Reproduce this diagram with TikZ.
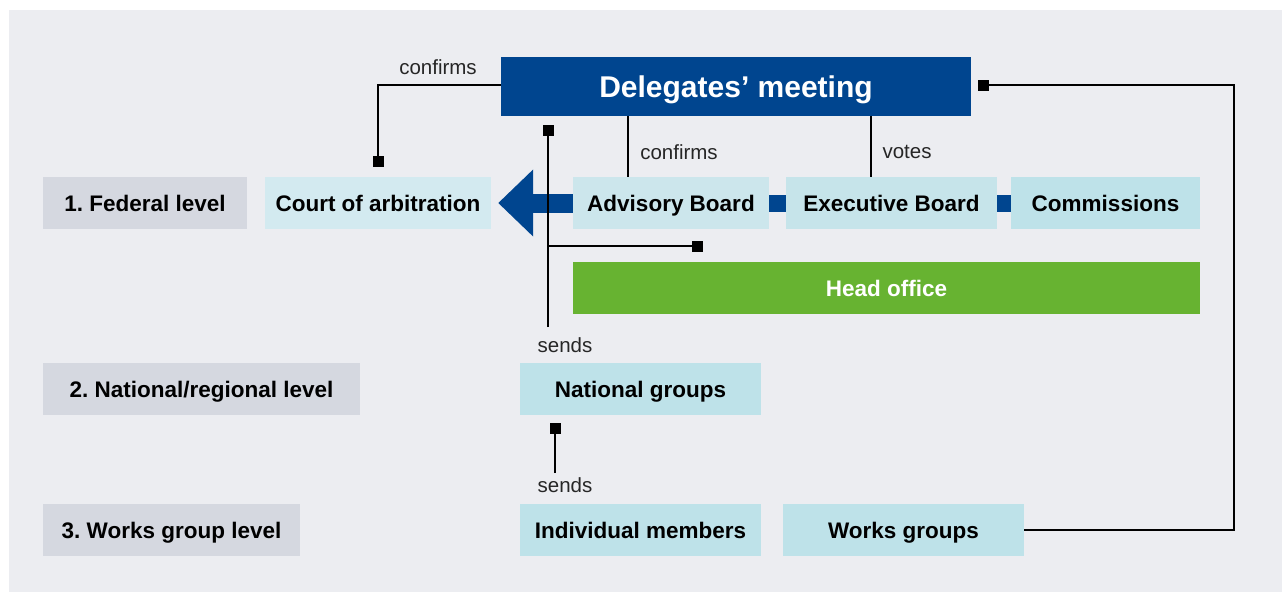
\documentclass[tikz,border=0pt]{standalone}
\usepackage{fontspec}
\setmainfont{Liberation Sans}
\usepackage{tikz}
\usetikzlibrary{arrows.meta}
\frenchspacing

\definecolor{panelgray}{RGB}{236,237,241}
\definecolor{darkblue}{RGB}{0,69,143}
\definecolor{levelgray}{RGB}{213,216,224}
\definecolor{courtcol}{RGB}{211,234,240}
\definecolor{advcol}{RGB}{204,230,236}
\definecolor{execcol}{RGB}{198,228,234}
\definecolor{unitcol}{RGB}{190,226,233}
\definecolor{officegreen}{RGB}{103,179,49}

\begin{document}
\begin{tikzpicture} [x=1pt, y=-1pt,
	box/.style={minimum height=52pt, inner sep=0pt, text height=16.1pt, text depth=0pt,
		font=\bfseries\fontsize{22.5}{26}\selectfont},
	levelbox/.style={box, fill=levelgray},
	unitbox/.style={box, fill=unitcol},
	tag/.style={font=\fontsize{20.5}{24}\selectfont, text=black!85, inner sep=0pt},
	conn/.style={line width=2.6pt},
	sq/.style={-{Square[length=11pt,width=11pt]}},
	link/.style={line width=17pt, darkblue}]
	\useasboundingbox (0,0) rectangle (1282,592);
	\fill [white] (0,0) rectangle (1282,592);
	\fill [panelgray] (9,10) rectangle (1282,592);

	% levels
	\node [levelbox, minimum width=204pt] (federal) at (145,203) {1. Federal level};
	\node [levelbox, minimum width=317pt] (regional) at (201.5,389) {2. National/regional level};
	\node [levelbox, minimum width=257pt] (worklevel) at (171.5,530) {3. Works group level};

	% bodies
	\node [box, fill=darkblue, text=white, minimum width=470pt, minimum height=59pt,
		text height=21.5pt, font=\bfseries\fontsize{30}{34}\selectfont] (meeting) at (736,86.5) {Delegates’ meeting};
	\node [box, fill=courtcol, minimum width=226pt] (court) at (378,203) {Court of arbitration};
	\node [box, fill=advcol, minimum width=196pt] (advisory) at (671,203) {Advisory Board};
	\node [box, fill=execcol, minimum width=211pt] (executive) at (891.5,203) {Executive Board};
	\node [unitbox, minimum width=189pt] (commissions) at (1105.5,203) {Commissions};
	\node [box, fill=officegreen, text=white, minimum width=627pt] (office) at (886.5,288) {Head office};
	\node [unitbox, minimum width=241pt] (national) at (640.5,389) {National groups};
	\node [unitbox, minimum width=241pt] (members) at (640.5,530) {Individual members};
	\node [unitbox, minimum width=241pt] (works) at (903.5,530) {Works groups};

	% labels
	\node [tag] (confirmsA) at (438,67) {confirms};
	\node [tag] (confirmsB) at (679,152) {confirms};
	\node [tag] (votes) at (907,152) {votes};
	\node [tag] (sendsA) at (565,345) {sends};
	\node [tag] (sendsB) at (565,485) {sends};

	\coordinate (sendtop) at (548,124.5);
	\coordinate (sendfoot) at (548,327);
	\coordinate (branch) at (548,246);
	\coordinate (branchend) at (702.5,246);
	\coordinate (natsq) at (555,422.5);
	\coordinate (natfoot) at (555,473);
	\coordinate (wcorner) at (1234,85);

	% connectors
	\draw [-{Triangle[length=35pt,width=65pt]}, line width=19pt, darkblue, shorten >=7pt]
		(advisory.west) -- (court.east);
	\draw [link] (advisory.east) -- (executive.west);
	\draw [link] (executive.east) -- (commissions.west);
	\draw [conn, sq] (meeting.west |- wcorner) -| ([yshift=9.5pt]court.north);
	\draw [conn] ([xshift=-43pt]advisory.north) -- ([xshift=-43pt]advisory.north |- meeting.south);
	\draw [conn] ([xshift=-20.5pt]executive.north) -- ([xshift=-20.5pt]executive.north |- meeting.south);
	\draw [conn, sq] (sendfoot) -- (sendtop);
	\draw [conn, sq] (branch) -- (branchend);
	\draw [conn, sq] (natfoot) -- (natsq);
	\draw [conn, sq] (works.east) -| (wcorner) -- ([xshift=6.5pt]meeting.east |- wcorner);
\end{tikzpicture}
\end{document}
